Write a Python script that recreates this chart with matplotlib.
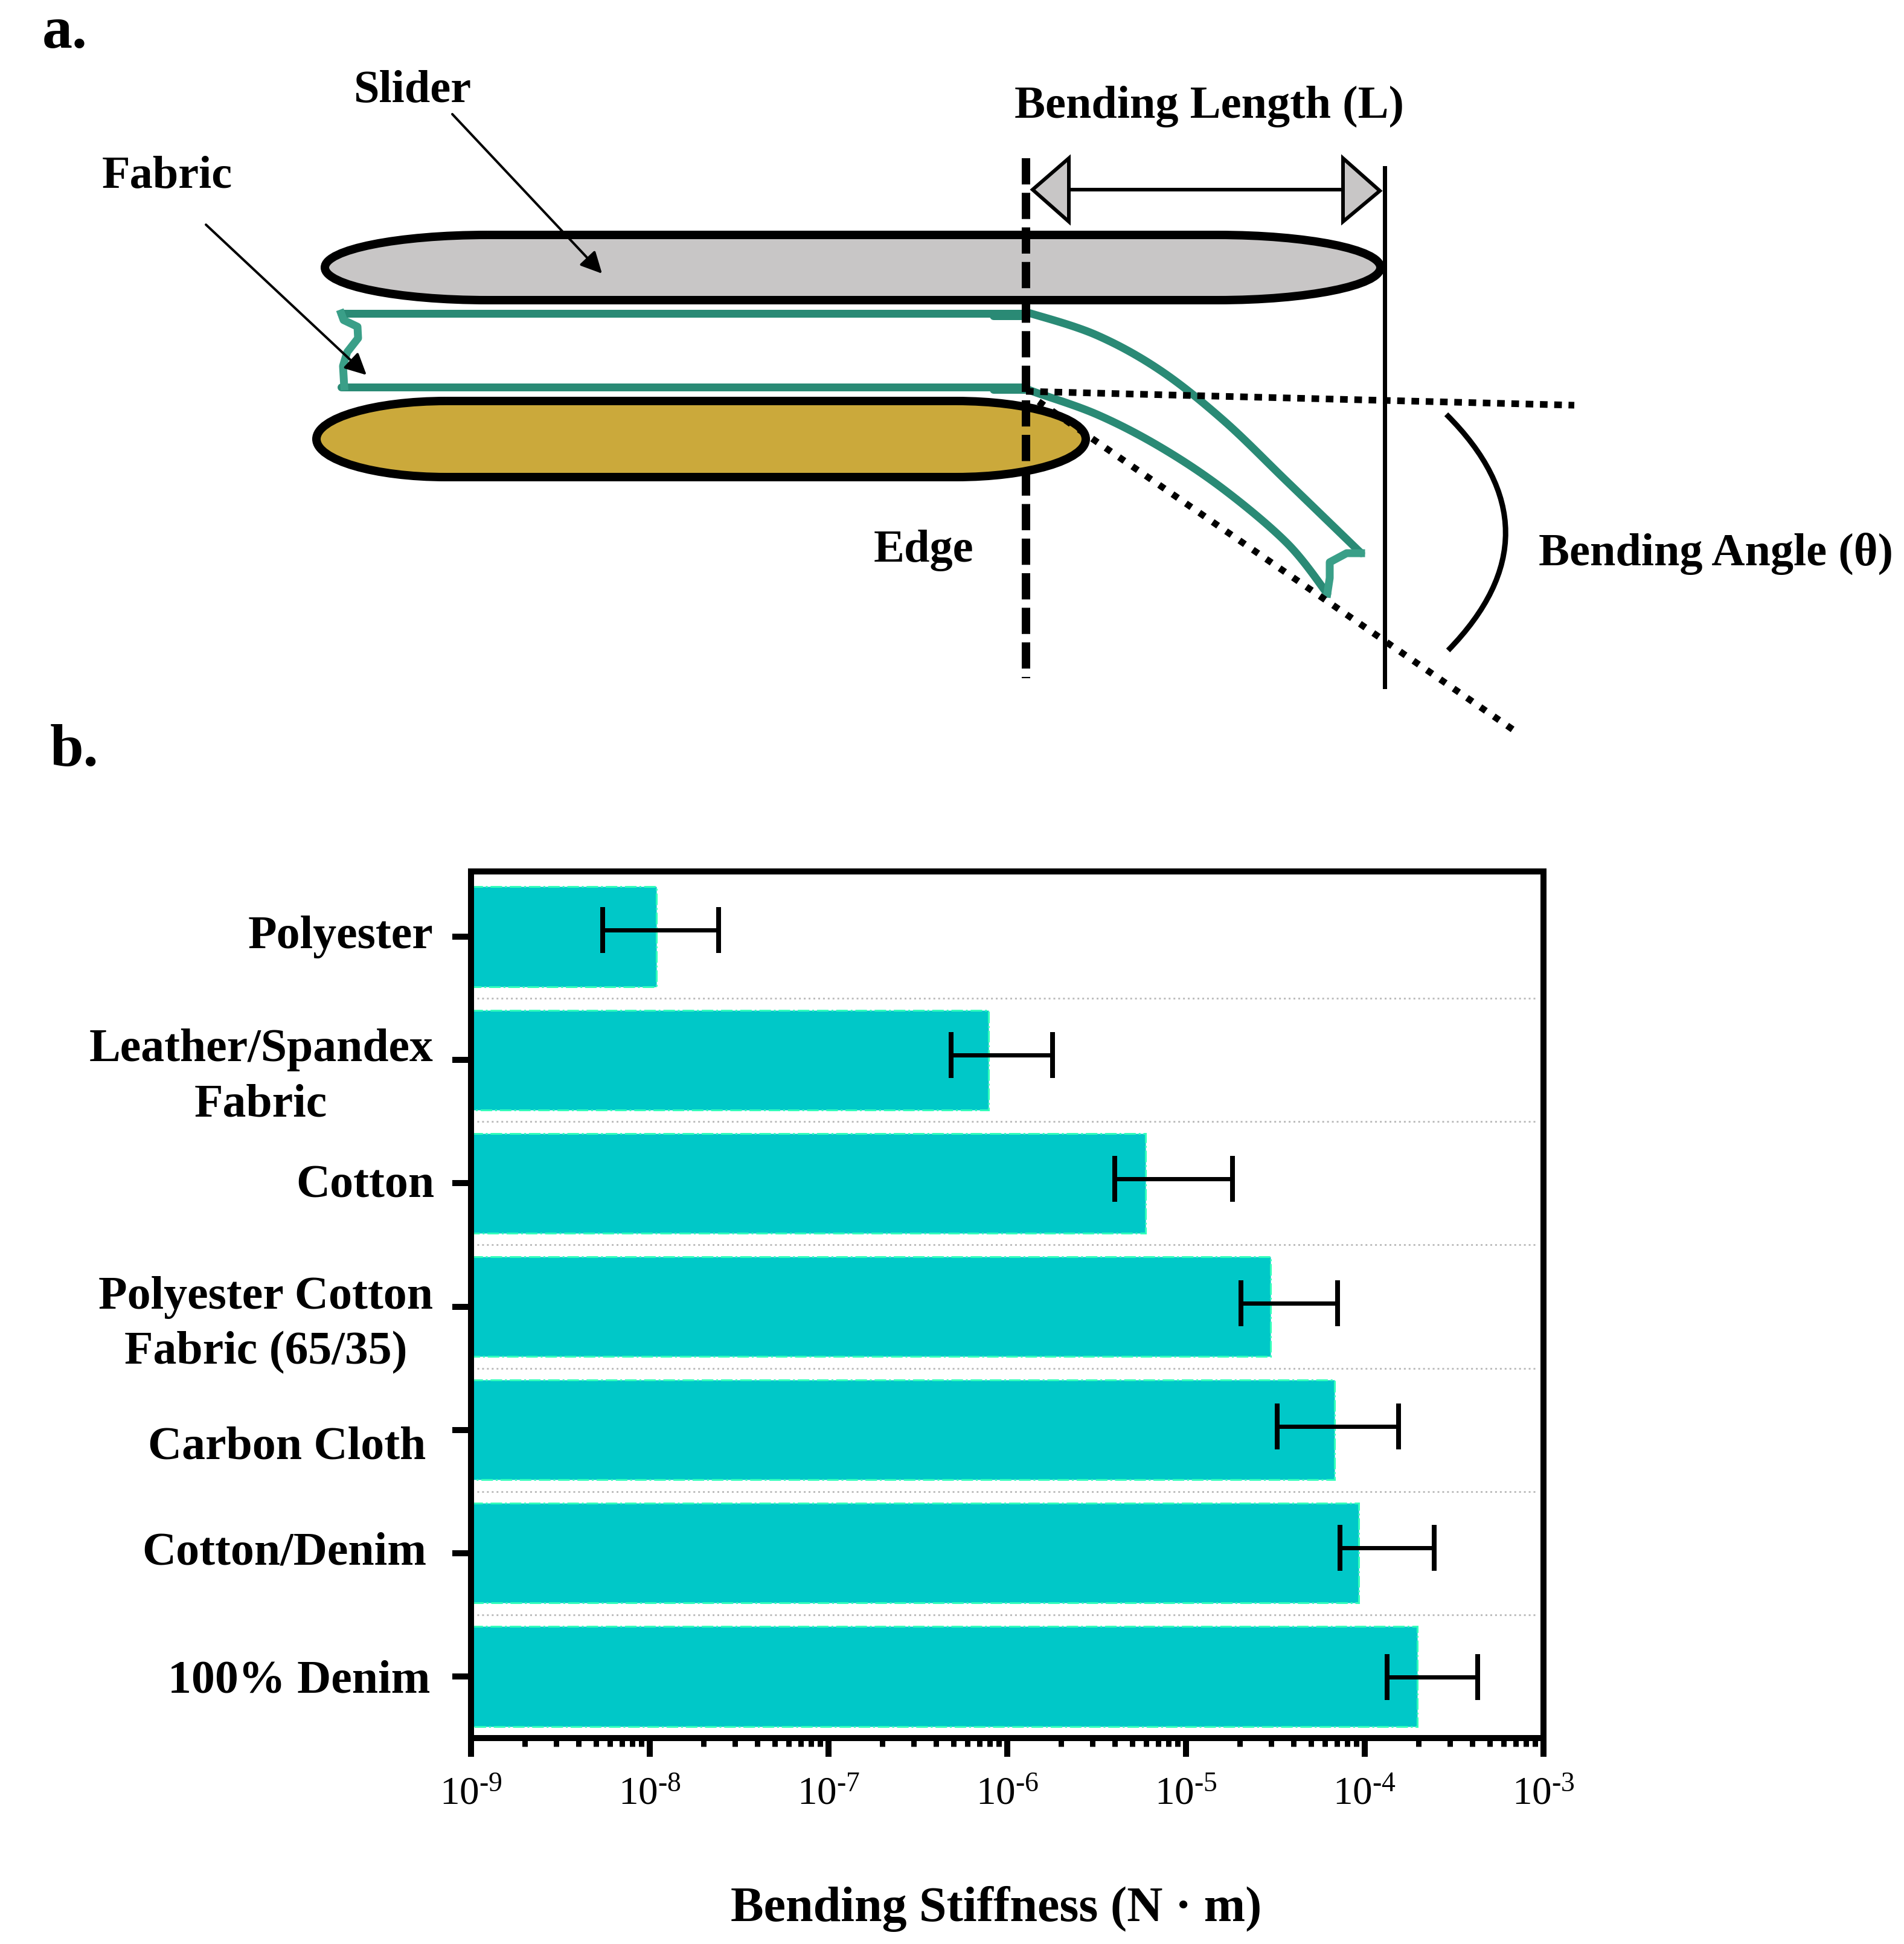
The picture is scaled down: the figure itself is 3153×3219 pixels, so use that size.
import numpy as np
import matplotlib
matplotlib.use("Agg")
import matplotlib.pyplot as plt
from matplotlib.path import Path
from matplotlib.patches import PathPatch, Polygon
from matplotlib.ticker import LogLocator, NullFormatter
from matplotlib.transforms import ScaledTranslation

plt.rcParams['font.family'] = ['Liberation Serif', 'DejaVu Serif']
plt.rcParams['mathtext.fontset'] = 'custom'
plt.rcParams['mathtext.rm'] = 'Liberation Serif'
plt.rcParams['mathtext.default'] = 'regular'

# bar chart values
fabrics = ['Polyester', 'Leather/Spandex\nFabric', 'Cotton',
           'Polyester Cotton\nFabric (65/35)', 'Carbon Cloth', 'Cotton/Denim', '100% Denim']
stiffness = [1.09e-8, 7.85e-7, 5.95e-6, 2.97e-5, 6.8e-5, 9.25e-5, 1.97e-4]
err_low = [5.45e-9, 4.85e-7, 3.99e-6, 2.03e-5, 3.24e-5, 7.26e-5, 1.33e-4]
err_high = [2.43e-8, 1.79e-6, 1.82e-5, 7.05e-5, 1.55e-4, 2.45e-4, 4.29e-4]
x_ticks = [1e-9, 1e-8, 1e-7, 1e-6, 1e-5, 1e-4, 1e-3]
x_labels = [r'$10^{\text{-}%d}$' % n for n in [9, 8, 7, 6, 5, 4, 3]]

# small shifts seen in the picture (in pixels)
err_shift = [-11, -8, -7, -5, -6, -9, 1]
label_dx = [0, 0, 2, 0, -12, -11, -4]
label_dy = [-8, 10, -4, 12, 21, -8, 0]

# schematic outlines in pixels of the full image
fabric_top = [(1697, 519), (1710, 520), (1816, 555), (1921, 613), (2026, 696), (2132, 798), (2254, 916)]
fabric_low = [(1697, 641), (1710, 648), (1816, 686), (1921, 740), (2026, 810), (2132, 900), (2198, 983)]
torn_left = [(565, 519), (569, 530), (592, 541), (593, 560), (575, 583), (568, 606), (570, 640)]
torn_right = [(2254, 916), (2230, 916), (2202, 931), (2202, 957), (2198, 983)]

W, H = 3153, 3219
DPI = 100


def pt(pixels):
    return pixels * 72 / DPI


def pill(x0, x1, top, bot, a):
    # long shape with half ellipse ends
    b = (bot - top) / 2
    k = 0.5523
    mid = (top + bot) / 2
    verts = [(x0 + a, top), (x1 - a, top),
             (x1 - a + k * a, top), (x1, mid - k * b), (x1, mid),
             (x1, mid + k * b), (x1 - a + k * a, bot), (x1 - a, bot),
             (x0 + a, bot),
             (x0 + a - k * a, bot), (x0, mid + k * b), (x0, mid),
             (x0, mid - k * b), (x0 + a - k * a, top), (x0 + a, top)]
    codes = [Path.MOVETO, Path.LINETO] + [Path.CURVE4] * 6 + [Path.LINETO] + [Path.CURVE4] * 6
    return Path(verts, codes)


def smooth(ax, pts, **kw):
    # catmull-rom through the read points
    p = np.array(pts, dtype=float)
    p = np.vstack([p[0], p, p[-1]])
    out = []
    for i in range(1, len(p) - 2):
        for t in np.linspace(0, 1, 20):
            out.append(0.5 * (2 * p[i] + (p[i + 1] - p[i - 1]) * t
                              + (2 * p[i - 1] - 5 * p[i] + 4 * p[i + 1] - p[i + 2]) * t ** 2
                              + (3 * p[i] - p[i - 1] - 3 * p[i + 1] + p[i + 2]) * t ** 3))
    out = np.array(out)
    ax.plot(out[:, 0], out[:, 1], **kw)


fig = plt.figure(figsize=(W / DPI, H / DPI), dpi=DPI)

# ---- panel a, drawn in pixel coordinates
sk = fig.add_axes([0, 0, 1, 1])
sk.set_xlim(0, W)
sk.set_ylim(H, 0)
sk.axis('off')

sk.add_patch(PathPatch(pill(538, 2286, 389, 497, 270), fc='#C8C6C6', ec='black', lw=pt(14)))
sk.add_patch(PathPatch(pill(524, 1798, 664, 790, 215), fc='#CBA93B', ec='black', lw=pt(14)))

green = '#2A8A75'
gkw = dict(color=green, lw=pt(13), solid_capstyle='round', solid_joinstyle='round')
sk.plot([565, 1697], [519, 519], **gkw)
sk.plot([565, 1697], [641, 641], **gkw)
sk.plot([1645, 1697], [523, 523], **gkw)
sk.plot([1645, 1697], [645, 645], **gkw)
smooth(sk, fabric_top, **gkw)
smooth(sk, fabric_low, **gkw)
sk.plot(*zip(*torn_left), color='#3A9F88', lw=pt(13), solid_joinstyle='round')
sk.plot(*zip(*torn_right), color='#3A9F88', lw=pt(13), solid_joinstyle='round')

# edge dashes and the end line
sk.plot([1699, 1699], [262, 1123], color='black', lw=pt(14), linestyle=(0, (3.1, 0.99)), dash_capstyle='butt')
sk.plot([2293, 2293], [278, 1137], color='black', lw=pt(7))

# angle lines
sk.plot([1699, 2607], [648, 671], color='black', lw=pt(11), linestyle=(0, (1.15, 1.0)), dash_capstyle='butt')
sk.plot([1720, 2511], [665, 1212], color='black', lw=pt(11), linestyle=(0, (1.0, 1.45)), dash_capstyle='butt')

# bending length arrow
sk.plot([1770, 2224], [314, 314], color='black', lw=pt(6))
sk.add_patch(Polygon([(1710, 314), (1770, 262), (1770, 367)], closed=True, fc='#C8C6C6', ec='black', lw=pt(6)))
sk.add_patch(Polygon([(2285, 316), (2224, 262), (2224, 367)], closed=True, fc='#C8C6C6', ec='black', lw=pt(6)))

# angle arc
sk.add_patch(PathPatch(Path([(2395, 686), (2590, 880), (2398, 1077)], [Path.MOVETO, Path.CURVE3, Path.CURVE3]),
                       fc='none', ec='black', lw=pt(9)))

ar = dict(arrowstyle='-|>,head_length=0.6,head_width=0.3', color='black', lw=pt(4), mutation_scale=36,
          shrinkA=0, shrinkB=0)
sk.annotate('', xy=(997, 453), xytext=(749, 189), arrowprops=ar)
sk.annotate('', xy=(607, 621), xytext=(341, 372), arrowprops=ar)

tkw = dict(ha='center', va='center', fontweight='bold', fontsize=55)
sk.text(107, 55, 'a.', ha='center', va='center', fontweight='bold', fontsize=72)
sk.text(123, 1244, 'b.', ha='center', va='center', fontweight='bold', fontsize=72)
sk.text(684, 150, 'Slider', **tkw)
sk.text(277, 293, 'Fabric', **tkw)
sk.text(2002, 176, 'Bending Length (L)', **tkw)
sk.text(1530, 911, 'Edge', **tkw)
sk.text(2841, 917, 'Bending Angle (\u03b8)', **tkw)

# ---- panel b
ax = fig.add_axes([780 / W, 1 - 2878 / H, 1776 / W, 1435 / H])
ax.patch.set_alpha(0)
y = np.arange(len(fabrics))
pitch = 204.0

ax.barh(y, np.array(stiffness) - 1e-9, left=1e-9, height=0.81, color='#00C8C8', edgecolor='#33FFBB',
        linewidth=pt(3), linestyle='-.', zorder=2)
for g in y[:-1] + 0.5:
    ax.plot([1.08e-9, 9e-4], [g, g], color='#BDBDBD', lw=pt(3), linestyle=':', zorder=1)

stiff = np.array(stiffness)
for i in y:
    ax.errorbar(stiff[i], i + err_shift[i] / pitch,
                xerr=[[stiff[i] - err_low[i]], [err_high[i] - stiff[i]]],
                color='black', elinewidth=pt(7), capsize=pt(38), capthick=pt(8), zorder=3)

ax.set_xscale('log')
ax.set_xlim(1e-9, 1e-3)
ax.set_ylim(6 + 102 / pitch, -108 / pitch)

ax.set_xticks(x_ticks)
ax.set_xticklabels(x_labels, fontsize=47)
ax.xaxis.set_minor_locator(LogLocator(base=10, subs=np.arange(2, 10), numticks=20))
ax.xaxis.set_minor_formatter(NullFormatter())
ax.tick_params(axis='x', which='major', length=pt(31), width=pt(10), pad=pt(32))
ax.tick_params(axis='x', which='minor', length=pt(14), width=pt(9))

ax.set_yticks(y)
ax.set_yticklabels(fabrics, fontsize=56, fontweight='bold', multialignment='center', linespacing=1.38)
ax.tick_params(axis='y', length=pt(31), width=pt(10), pad=pt(32))
for lab, dx, dy in zip(ax.get_yticklabels(), label_dx, label_dy):
    lab.set_transform(lab.get_transform() + ScaledTranslation(dx / DPI, -dy / DPI, fig.dpi_scale_trans))

for s in ax.spines.values():
    s.set_linewidth(pt(10))

ax.set_xlabel('Bending Stiffness (N \u00b7 m)', fontsize=59, fontweight='bold', va='center')
ax.xaxis.set_label_coords((1650 - 780) / 1776, (2878 - 3161) / 1435)

fig.savefig('out.png', dpi=DPI)
